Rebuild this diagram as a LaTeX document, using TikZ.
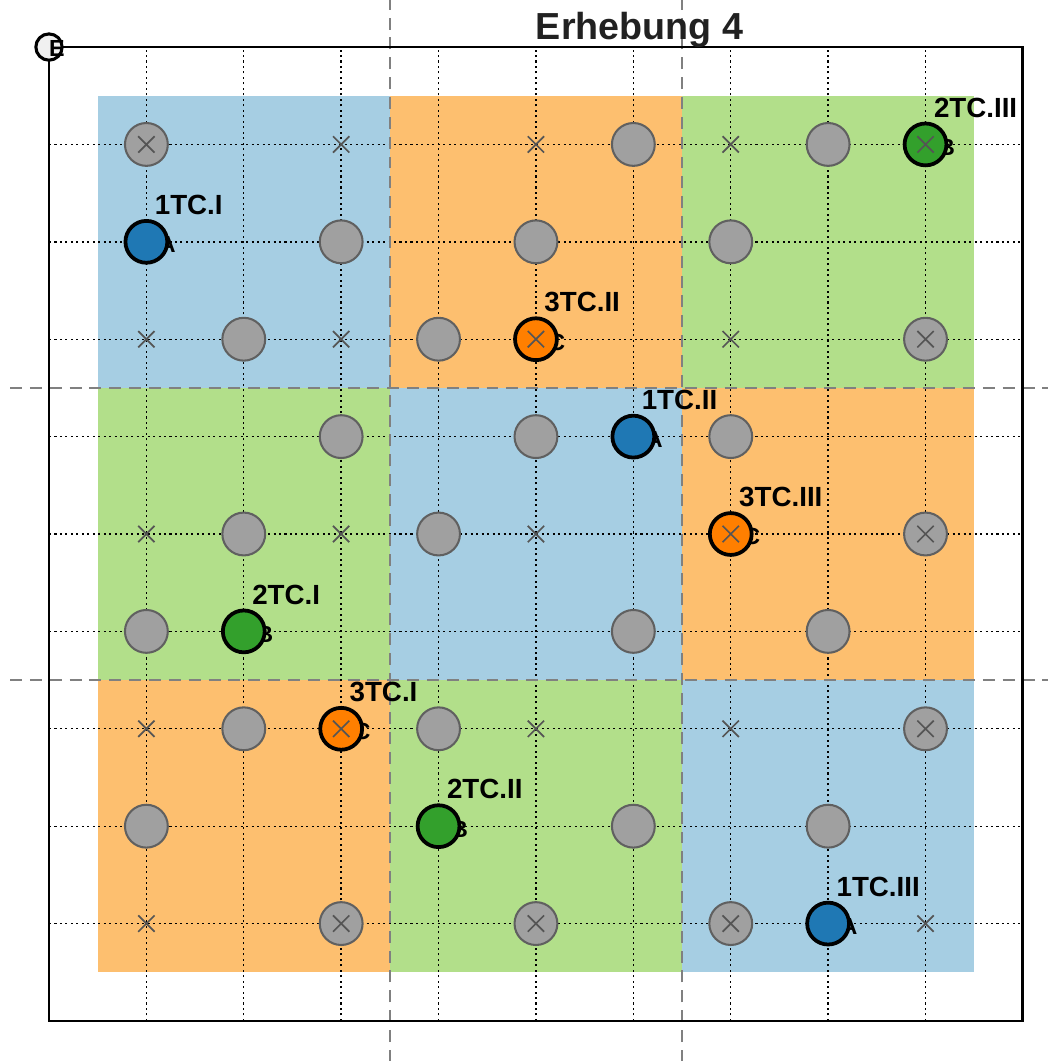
\documentclass[tikz,border=0pt]{standalone}
\usepackage{fontspec}
\setmainfont{Liberation Sans}
\usetikzlibrary{shapes.misc}

\definecolor{blockblue}{HTML}{A6CEE3}
\definecolor{blockorange}{HTML}{FDBF6F}
\definecolor{blockgreen}{HTML}{B2DF8A}
\definecolor{dotblue}{HTML}{1F78B4}
\definecolor{dotgreen}{HTML}{33A02C}
\definecolor{dotorange}{HTML}{FF7F00}
\definecolor{plotgray}{HTML}{A0A0A0}
\definecolor{plotedge}{HTML}{606060}
\definecolor{crossgray}{HTML}{555555}
\definecolor{dividegray}{HTML}{808080}
\definecolor{cornerfill}{HTML}{F0F0F0}

\tikzset{
  grid/.style={line width=0.4pt, dash pattern=on 0.6pt off 1pt},
  divide/.style={dividegray, line width=0.7pt, dash pattern=on 3.5pt off 2.3pt},
  plot/.style={circle, minimum size=0.44cm, inner sep=0pt, fill=plotgray, draw=plotedge, line width=0.6pt},
  tree/.style={circle, minimum size=0.43cm, inner sep=0pt, draw=black, line width=1.1pt},
  xmark/.style={cross out, draw=crossgray, line width=0.5pt, minimum size=0.15cm, inner sep=0pt},
  tag/.style={font=\fontsize{8.1}{9}\bfseries\selectfont, anchor=base west, inner sep=0pt},
  hidden/.style={font=\fontsize{6.8}{7}\bfseries\selectfont, inner sep=0pt},
}

\begin{document}
\begin{tikzpicture}

\useasboundingbox (-0.503,-0.411) rectangle (10.318,10.483);

% Blocks
\fill[blockblue] (0.5,6.5) rectangle (3.5,9.5);
\fill[blockorange] (3.5,6.5) rectangle (6.5,9.5);
\fill[blockgreen] (6.5,6.5) rectangle (9.5,9.5);
\fill[blockgreen] (0.5,3.5) rectangle (3.5,6.5);
\fill[blockblue] (3.5,3.5) rectangle (6.5,6.5);
\fill[blockorange] (6.5,3.5) rectangle (9.5,6.5);
\fill[blockorange] (0.5,0.5) rectangle (3.5,3.5);
\fill[blockgreen] (3.5,0.5) rectangle (6.5,3.5);
\fill[blockblue] (6.5,0.5) rectangle (9.5,3.5);

% Grid
\foreach \i in {1,...,9} {
  \draw[grid] (\i,0) -- (\i,10);
  \draw[grid] (0,\i) -- (10,\i);
}

% Block borders
\draw[divide] (3.5,-0.42) -- (3.5,10.49);
\draw[divide] (6.5,-0.42) -- (6.5,10.49);
\draw[divide] (-0.40,6.5) -- (10.26,6.5);
\draw[divide] (-0.40,3.5) -- (10.26,3.5);

% Frame
\draw[line width=0.85pt] (0,0) rectangle (10,10);

% Plots
\node[plot] (p19) at (1,9) {};
\node[plot] (p69) at (6,9) {};
\node[plot] (p89) at (8,9) {};
\node[plot] (p38) at (3,8) {};
\node[plot] (p58) at (5,8) {};
\node[plot] (p78) at (7,8) {};
\node[plot] (p27) at (2,7) {};
\node[plot] (p47) at (4,7) {};
\node[plot] (p97) at (9,7) {};
\node[plot] (p36) at (3,6) {};
\node[plot] (p56) at (5,6) {};
\node[plot] (p76) at (7,6) {};
\node[plot] (p25) at (2,5) {};
\node[plot] (p45) at (4,5) {};
\node[plot] (p95) at (9,5) {};
\node[plot] (p14) at (1,4) {};
\node[plot] (p64) at (6,4) {};
\node[plot] (p84) at (8,4) {};
\node[plot] (p23) at (2,3) {};
\node[plot] (p43) at (4,3) {};
\node[plot] (p93) at (9,3) {};
\node[plot] (p12) at (1,2) {};
\node[plot] (p62) at (6,2) {};
\node[plot] (p82) at (8,2) {};
\node[plot] (p31) at (3,1) {};
\node[plot] (p51) at (5,1) {};
\node[plot] (p71) at (7,1) {};

% Trees: letter first, circle on top
\node[hidden] (a1) at (1.215,7.97) {A};
\node[tree, fill=dotblue] (t1a) at (1,8) {};
\node[hidden] (a2) at (6.215,5.97) {A};
\node[tree, fill=dotblue] (t2a) at (6,6) {};
\node[hidden] (a3) at (8.215,0.97) {A};
\node[tree, fill=dotblue] (t3a) at (8,1) {};
\node[hidden] (b1) at (2.215,3.97) {B};
\node[tree, fill=dotgreen] (t1b) at (2,4) {};
\node[hidden] (b2) at (4.215,1.97) {B};
\node[tree, fill=dotgreen] (t2b) at (4,2) {};
\node[hidden] (b3) at (9.215,8.97) {B};
\node[tree, fill=dotgreen] (t3b) at (9,9) {};
\node[hidden] (c1) at (3.215,2.97) {C};
\node[tree, fill=dotorange] (t1c) at (3,3) {};
\node[hidden] (c2) at (5.215,6.97) {C};
\node[tree, fill=dotorange] (t2c) at (5,7) {};
\node[hidden] (c3) at (7.215,4.97) {C};
\node[tree, fill=dotorange] (t3c) at (7,5) {};

% Crosses
\foreach \x in {1,3,5,7,9} {
  \foreach \y in {1,3,5,7,9} {
    \node[xmark] (x\x\y) at (\x,\y) {};
  }
}

% Labels
\node[tag] (l1a) at ([shift={(0.08,0.28)}]t1a.center) {1TC.I};
\node[tag] (l2a) at ([shift={(0.08,0.28)}]t2a.center) {1TC.II};
\node[tag] (l3a) at ([shift={(0.08,0.28)}]t3a.center) {1TC.III};
\node[tag] (l1b) at ([shift={(0.08,0.28)}]t1b.center) {2TC.I};
\node[tag] (l2b) at ([shift={(0.08,0.28)}]t2b.center) {2TC.II};
\node[tag] (l3b) at ([shift={(0.08,0.28)}]t3b.center) {2TC.III};
\node[tag] (l1c) at ([shift={(0.08,0.28)}]t1c.center) {3TC.I};
\node[tag] (l2c) at ([shift={(0.08,0.28)}]t2c.center) {3TC.II};
\node[tag] (l3c) at ([shift={(0.08,0.28)}]t3c.center) {3TC.III};

% Corner mark
\node[circle, minimum size=0.27cm, inner sep=0pt, draw, fill=cornerfill, line width=0.9pt] (corner) at (0,10) {};
\node[font=\fontsize{6.8}{7}\bfseries\selectfont, inner sep=0pt] (cornerE) at (0.08,9.99) {E};

% Title
\node[font=\fontsize{11}{13}\bfseries\selectfont, text=black!87, anchor=base, inner sep=0pt] (title) at (6.063,10.082) {Erhebung 4};

\end{tikzpicture}
\end{document}
